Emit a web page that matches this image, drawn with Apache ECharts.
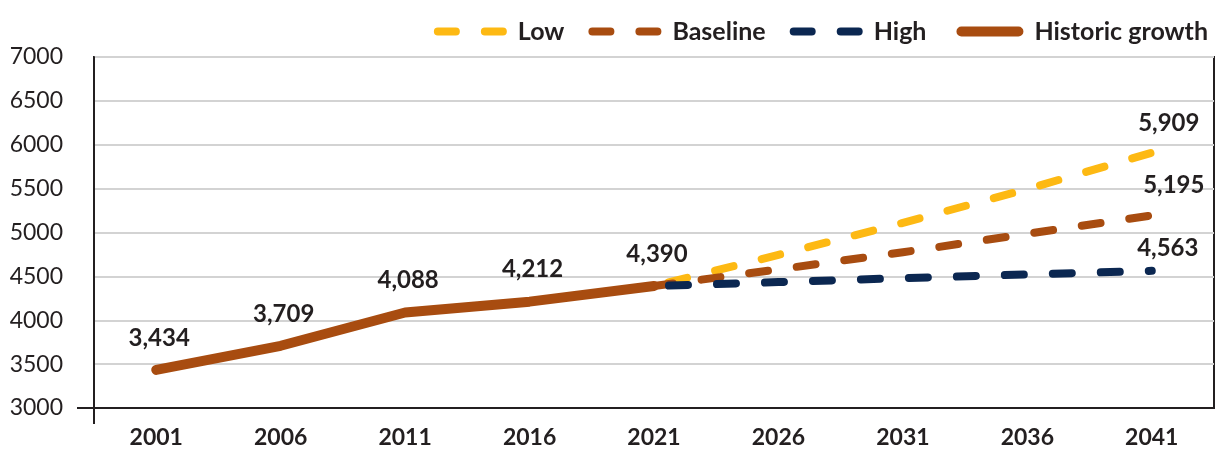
<!DOCTYPE html>
<html>
<head>
<meta charset="utf-8">
<script src="https://cdn.jsdelivr.net/npm/echarts@6/dist/echarts.min.js"></script>
<style>
  html, body { margin: 0; padding: 0; background: #ffffff; }
  #chart { width: 1217px; height: 449px; }
</style>
</head>
<body>
<div id="chart"></div>
<script>
// Census years on the horizontal axis
const years = ['2001', '2006', '2011', '2016', '2021', '2026', '2031', '2036', '2041'];

// Recorded population, 2001–2021
const historic = [3434, 3709, 4088, 4212, 4390, null, null, null, null];

// Projection scenarios, all starting from the 2021 figure
const low      = [null, null, null, null, 4390, 4745, 5110, 5495, 5909];
const baseline = [null, null, null, null, 4390, 4580, 4775, 4985, 5195];
const high     = [null, null, null, null, 4390, 4435, 4480, 4522, 4563];

const yTicks = { min: 3000, max: 7000, step: 500 };

const INK = '#231f20';
const YELLOW = '#fdb913';
const BROWN = '#a84c10';
const NAVY = '#0b2751';
const FONT = 'Lato, "Open Sans", sans-serif';

const fmt = v => Number(v).toLocaleString('en-US');

// Legend keys: two rounded dashes for projections, one rounded bar for the record
const DASH_ICON = 'path://M0,0 L0.01,0 Z M0,10 L0.01,10 Z ' +
  'M4,1 H22 A4,4 0 0 1 22,9 H4 A4,4 0 0 1 4,1 Z ' +
  'M51,1 H69 A4,4 0 0 1 69,9 H51 A4,4 0 0 1 51,1 Z M73,5 L72.99,5 Z';
const BAR_ICON = 'path://M0,0 L0.01,0 Z M0,10 L0.01,10 Z ' +
  'M11,0 H68 A5,5 0 0 1 68,10 H11 A5,5 0 0 1 11,0 Z M73,5 L72.99,5 Z';

const VALUE_FONT = { color: INK, fontFamily: FONT, fontWeight: 'bold', fontSize: 24 };

// Only the final point of each projection carries a value label
function endLabel(offset) {
  return Object.assign({
    show: true,
    position: 'top',
    distance: 14,
    offset: offset,
    formatter: p => (p.dataIndex === years.length - 1 ? fmt(p.value) : '')
  }, VALUE_FONT);
}

function projection(name, data, color, dashOffset, labelOffset) {
  return {
    name: name,
    type: 'line',
    data: data,
    symbol: 'circle',
    symbolSize: 0,
    showAllSymbol: true,
    connectNulls: false,
    z: 2,
    lineStyle: {
      color: color,
      width: 8,
      type: [19, 29],
      dashOffset: dashOffset,
      cap: 'round',
      join: 'round'
    },
    itemStyle: { color: color },
    label: endLabel(labelOffset)
  };
}

const chart = echarts.init(document.getElementById('chart'), null, { renderer: 'canvas' });

chart.setOption({
  animation: false,
  backgroundColor: '#ffffff',
  textStyle: { fontFamily: FONT, color: INK },
  grid: {
    left: 94, right: 3, top: 57, bottom: 40,
    show: true,
    borderColor: INK,
    borderWidth: 2,
    backgroundColor: 'transparent'
  },
  legend: {
    right: 4,
    top: 14,
    itemWidth: 73,
    itemHeight: 10,
    itemGap: 24,
    textStyle: { color: INK, fontFamily: FONT, fontWeight: 'bold', fontSize: 25, padding: [0, 0, 0, 6] },
    data: [
      { name: 'Low', icon: DASH_ICON },
      { name: 'Baseline', icon: DASH_ICON },
      { name: 'High', icon: DASH_ICON },
      { name: 'Historic growth', icon: BAR_ICON }
    ]
  },
  xAxis: {
    type: 'category',
    data: years,
    boundaryGap: true,
    axisLine: { lineStyle: { color: INK, width: 2 } },
    axisTick: { show: false },
    axisLabel: {
      color: INK,
      fontFamily: FONT,
      fontWeight: 'bold',
      fontSize: 23,
      margin: 18
    }
  },
  yAxis: {
    type: 'value',
    min: yTicks.min,
    max: yTicks.max,
    interval: yTicks.step,
    axisLine: { show: true, lineStyle: { color: INK, width: 2 } },
    axisTick: { show: false },
    splitLine: { lineStyle: { color: '#d3d3d3', width: 2 } },
    axisLabel: {
      color: INK,
      fontFamily: FONT,
      fontSize: 23,
      margin: 31,
      formatter: v => String(v)
    }
  },
  series: [
    projection('Low', low, YELLOW, 33, [17, -3]),
    projection('Baseline', baseline, BROWN, 0, [22, -4]),
    projection('High', high, NAVY, 33, [16, 3]),
    {
      name: 'Historic growth',
      type: 'line',
      data: historic,
      symbol: 'circle',
      symbolSize: 0,
      showAllSymbol: true,
      z: 5,
      lineStyle: { color: BROWN, width: 10, cap: 'round', join: 'round' },
      itemStyle: { color: BROWN },
      label: Object.assign({
        show: true,
        position: 'top',
        distance: 20,
        offset: [3, 0],
        formatter: p => fmt(p.value)
      }, VALUE_FONT)
    }
  ]
});

// Short stubs where the two axes cross past the plot corner
const gridRect = chart.getModel().getComponent('grid').coordinateSystem.getRect();
const cornerY = gridRect.y + gridRect.height;
chart.setOption({
  graphic: [
    {
      type: 'line',
      shape: { x1: gridRect.x - 17, y1: cornerY, x2: gridRect.x, y2: cornerY },
      style: { stroke: INK, lineWidth: 2 },
      z: 10
    },
    {
      type: 'line',
      shape: { x1: gridRect.x, y1: cornerY, x2: gridRect.x, y2: cornerY + 16 },
      style: { stroke: INK, lineWidth: 2 },
      z: 10
    }
  ]
});
</script>
</body>
</html>
